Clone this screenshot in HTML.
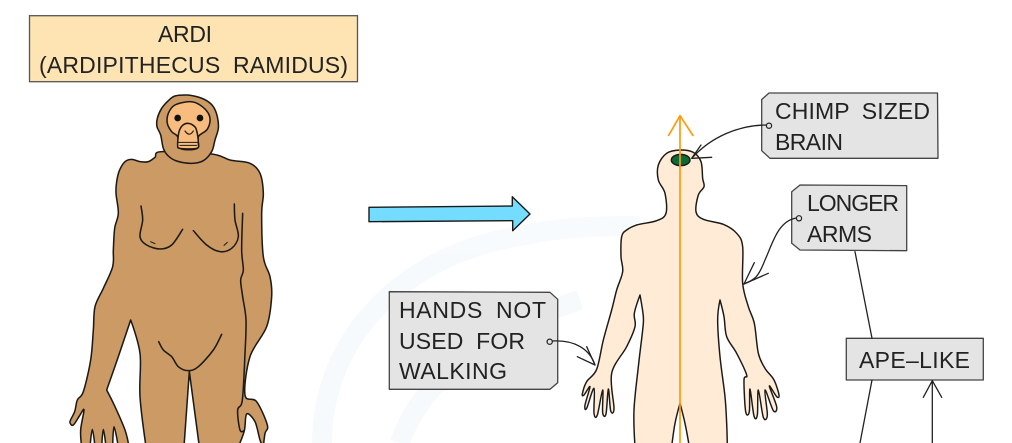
<!DOCTYPE html>
<html><head><meta charset="utf-8"><style>
html,body{margin:0;padding:0;background:#fff;width:1012px;height:443px;overflow:hidden}
svg{display:block}
text{font-family:"Liberation Sans",sans-serif;font-size:23px;fill:#222;word-spacing:6px}
</style></head><body>
<svg width="1012" height="443" viewBox="0 0 1012 443" xmlns="http://www.w3.org/2000/svg">
<!-- watermark -->
<g fill="none" stroke="#f3f9fc" stroke-width="20" opacity=".7">
<path d="M322 443C322 340 400 262 500 240C560 226 600 226 640 226"/>
<path d="M400 443C420 380 490 330 580 300"/>
</g>
<!-- title -->
<rect x="29.5" y="15.7" width="328" height="66" fill="#fee4b3" stroke="#555" stroke-width="1.3"/>
<text x="158" y="42" textLength="54">ARDI</text>
<text x="39" y="73" textLength="309">(ARDIPITHECUS RAMIDUS)</text>
<!-- ape -->
<g transform="translate(60 80) scale(.33333)" stroke="#1c1a16" stroke-width="4.6" stroke-linejoin="round" stroke-linecap="round" fill="none">
<path class="s" fill="#cb9a65" d="M305 215L285 232L265 245L240 245L215 238L195 245L178 272L170 305L168 340L175 400L164 445L160 510L158 560L130 625L105 680L100 750L92 840L70 935L52 960L44 995L30 1025L40 1035L60 1005L72 990L62 1050L65 1100L65 1100L90 1100L90 1100L97 1048L105 1100L105 1100L125 1100L125 1100L130 1048L138 1100L138 1100L158 1100L158 1100L162 1040L175 1100L175 1100L207 1100L207 1100L195 1050L165 980L140 930L140 930L175 830L212 720L212 720L240 820L240 950L258 1100L258 1100L372 1100L372 1100L388 875L388 875L418 1100L418 1100L535 1100L535 1100L553 1052L560 1002L585 1025L600 1080L610 1100L610 1100L615 1060L622 1035L590 965L555 945L570 830L620 740L635 650L630 590L610 530L605 400L610 340L600 280L570 250L510 240L455 222Z"/>
<path class="s" d="M548 400L545 510L550 570L542 600L548 650L558 720L555 820L547 960L533 990L540 1050L553 1052"/>
<path class="s" fill="#cb9a65" d="M380 45L345 48L325 62L305 85L292 115L291 140L302 165L310 205L325 228L350 243L395 250L430 242L455 215L465 180L475 145L472 110L460 80L440 62L410 50Z"/>
<path class="s" fill="#f9bc7f" d="M345 75L390 65L420 75L445 100L450 125L440 150L415 170L412 205L360 205L353 170L335 155L322 130L325 100Z"/>
<path class="s" fill="#f9bc7f" d="M385 130L368 136L357 155L353 195L360 205L410 205L415 190L410 152L402 138Z"/>
<path d="M356 187H414M360 196H410" stroke-width="3"/>
<path d="M375 153Q388 172 400 153" stroke-width="3.5"/>
<circle cx="353" cy="114" r="10" fill="#111" stroke="none"/><circle cx="420" cy="114" r="10" fill="#111" stroke="none"/>
<path class="s" d="M243 378L248 420L240 470L260 495L300 507L335 495L368 448"/>
<path class="s" d="M400 452L440 495L480 515L515 505L535 470L525 420L523 372"/>
<path d="M272 485L285 491M492 496L502 487" stroke-width="3"/>
<path class="s" d="M296 785L310 810L335 830L355 860L385 872L415 860L460 810L485 763"/>
</g>
<!-- big arrow -->
<path d="M369 207.3L512.3 206V196.7L530 214L512.7 230.7V220.7L369 221.7Z" fill="#73dcff" stroke="#1a1a1a" stroke-width="1.4" stroke-linejoin="round"/>
<!-- human -->
<g transform="translate(570 90) scale(.33333)" stroke="#1c1a16" stroke-width="4.4" stroke-linejoin="round" stroke-linecap="round" fill="none">
<path class="s" fill="#ffebd6" d="M330 180L370 187L393 215L398 265L402 290L385 315L378 365L400 388L460 403L500 430L518 470L518 580L535 650L553 700L565 790L585 835L612 870L627 915L620 920L598 888L620 950L610 962L585 900L592 975L580 982L565 900L562 975L552 978L540 897L538 965L527 965L522 870L530 855L500 790L470 740L462 680L450 630L450 630L443 690L450 800L465 920L470 1000L472 1070L472 1070L358 1070L358 1070L345 1000L330 940L330 940L315 1000L305 1070L305 1070L195 1070L195 1070L192 960L205 830L218 720L220 680L210 615L210 615L193 670L195 710L170 770L125 850L132 955L122 962L115 897L108 972L98 968L98 900L82 975L72 970L72 895L50 955L45 945L60 890L42 915L37 912L50 875L80 838L100 750L125 660L140 600L158 545L153 500L155 440L170 420L200 405L260 392L288 370L285 310L265 270L265 225L290 190Z"/>
<ellipse cx="332" cy="210" rx="28" ry="17" fill="#0a6b35"/>
</g>
<!-- orange arrow -->
<path d="M680 443V116M668.3 136L680 115.7L693.3 136" fill="none" stroke="#ff9a0a" stroke-width="1.7" stroke-linejoin="round"/>
<!-- tags -->
<g stroke="#444" stroke-width="1.3" fill="#e4e4e4" stroke-linejoin="round">
<path d="M769 93L937.5 93L938 158.3L770 158.3L761.7 150.7V99.5Z"/>
<path d="M800 185L906.7 185.6V250.7L800 250L791.7 243.3V191.7Z"/>
<path d="M389.3 291.7L550 292.3L557.7 299.3V382.7L550 389.3H389.3Z"/>
<rect x="846.3" y="338.3" width="137" height="41.7"/>
</g>
<text x="775" y="119" textLength="155">CHIMP SIZED</text>
<text x="775" y="150" textLength="68">BRAIN</text>
<text x="807" y="211" textLength="92">LONGER</text>
<text x="807" y="242" textLength="65">ARMS</text>
<text x="859" y="368" textLength="111">APE–LIKE</text>
<text x="399" y="318" textLength="147">HANDS NOT</text>
<text x="399" y="349" textLength="126">USED FOR</text>
<text x="399" y="379" textLength="108">WALKING</text>
<!-- connectors -->
<g fill="none" stroke="#222" stroke-width="1.3" stroke-linecap="round" stroke-linejoin="round">
<path d="M767 125C740 125 712 136 692 158"/>
<path d="M701 145L691.7 158.3L711.7 157.3"/>
<path d="M797 218C778 220 772 245 765 260C758 278 755 279 744 284"/>
<path d="M754.3 262.7L744 284L768.3 273.3"/>
<path d="M547 341.5C575 338 590 350 595 365"/>
<path d="M586.7 346.7L595 365L577.3 356.7"/>
<path d="M855 251.7L872 338.3M872 380L860 443M932.3 381V443M923.3 397.3L932.3 380.7L941.7 397.3"/>
</g>
<g fill="#e4e4e4" stroke="#222" stroke-width="1.2">
<circle cx="769" cy="125.7" r="2.6"/><circle cx="799" cy="218.3" r="2.6"/><circle cx="549.7" cy="341.7" r="2.6"/>
</g>
</svg>
<script>
document.querySelectorAll('path.s').forEach(function(el){
  var d=el.getAttribute('d'),closed=/Z/i.test(d),n=d.match(/-?[\d.]+/g).map(Number),p=[];
  for(var i=0;i<n.length;i+=2){
    var l=p[p.length-1];
    if(l&&l[0]===n[i]&&l[1]===n[i+1]){l[2]=1;continue;}
    p.push([n[i],n[i+1],0]);
  }
  var L=p.length,out='M'+p[0][0]+' '+p[0][1],T=1/6;
  function g(i){return closed?p[(i+L)%L]:p[Math.max(0,Math.min(L-1,i))];}
  var end=closed?L:L-1;
  for(var j=0;j<end;j++){
    var a=g(j-1),b=g(j),c=g(j+1),e=g(j+2);
    var t1=b[2]?0:T,t2=c[2]?0:T;
    out+='C'+(b[0]+(c[0]-a[0])*t1).toFixed(1)+' '+(b[1]+(c[1]-a[1])*t1).toFixed(1)+' '+(c[0]-(e[0]-b[0])*t2).toFixed(1)+' '+(c[1]-(e[1]-b[1])*t2).toFixed(1)+' '+c[0]+' '+c[1];
  }
  el.setAttribute('d',out+(closed?'Z':''));
});
</script>
</body></html>
